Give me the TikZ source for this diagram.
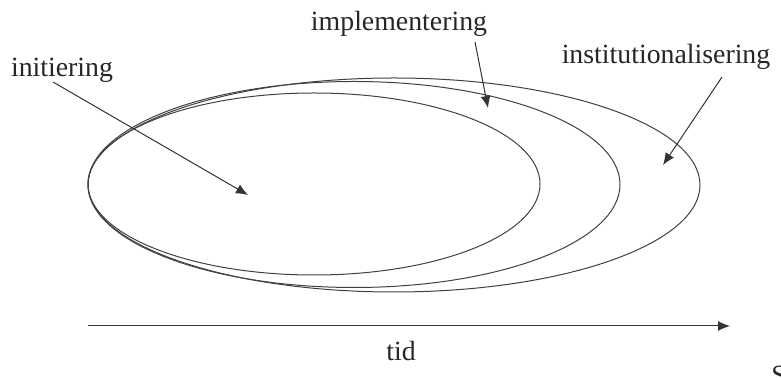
\documentclass[tikz,border=0pt]{standalone}
\usepackage{fontspec}
\setmainfont{Liberation Serif}
\usetikzlibrary{arrows.meta}
\begin{document}
\begin{tikzpicture}[x=0.5pt,y=-0.5pt,
  lbl/.style={font=\fontsize{13.9}{16}\selectfont, inner sep=0pt, text=black!85},
  ring/.style={draw=black!75, line width=0.5pt},
  pointer/.style={draw=black!80, line width=0.5pt, -{Latex[length=6pt,width=5pt]}}]
\useasboundingbox (0,0) rectangle (781,378);
% ellipses
\draw[ring] (314,184) ellipse [x radius=113pt, y radius=45.5pt];
\draw[ring] (354,184.5) ellipse [x radius=133pt, y radius=51.5pt];
\draw[ring] (394,185) ellipse [x radius=153pt, y radius=53.5pt];
% labels
\node[lbl] (ini) at (62,70) {initiering};
\node[lbl] (imp) at (399,24) {implementering};
\node[lbl] (ins) at (666,57) {institutionalisering};
\node[lbl] (tid) at (401,351) {tid};
\node[lbl, anchor=north west] (s) at (771,366) {S};
% pointer targets
\coordinate (iniend) at (248,195);
\coordinate (impend) at (488,108);
\coordinate (insend) at (663,165);
\coordinate (t0) at (88,326);
\coordinate (t1) at (730,326);
\draw[pointer] (53,82) -- (iniend);
\draw[pointer] (475,42) -- (impend);
\draw[pointer] (722,77) -- (insend);
\draw[pointer] (t0) -- (t1);
\end{tikzpicture}
\end{document}
